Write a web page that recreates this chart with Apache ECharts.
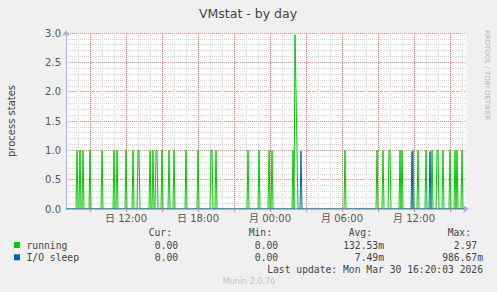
<!DOCTYPE html>
<html><head><meta charset="utf-8">
<script src="https://cdn.jsdelivr.net/npm/echarts@6/dist/echarts.min.js"></script>
<style>html,body{margin:0;padding:0;background:#f0f0f0;}#c{width:497px;height:292px;}</style>
</head><body><div id="c"></div>
<script>
// ---- data ----
const dayNames = ['日', '月'];            // Sun, Mon
const xStartHour = 7;                      // 日 07:00
const sampleMinutes = 5;
const sampleCount = 400;
const xLabelHours = [12, 18, 24, 30, 36];
const majorGridHours = [9, 12, 15, 18, 21, 24, 27, 30, 33, 36, 39];
const runningSpikes = [
  ['日 07:55', 1], ['日 08:10', 1], ['日 08:25', 1], ['日 09:00', 1], ['日 10:00', 1],
  ['日 11:00', 1], ['日 11:15', 1], ['日 12:00', 1], ['日 12:35', 1], ['日 13:00', 1],
  ['日 13:05', 1], ['日 14:00', 1], ['日 14:15', 1], ['日 14:30', 1], ['日 14:35', 1],
  ['日 15:00', 1], ['日 15:35', 1], ['日 16:00', 1], ['日 17:00', 1], ['日 18:00', 1],
  ['日 19:05', 1], ['日 19:10', 1], ['日 19:30', 1], ['日 22:10', 1], ['日 23:05', 1],
  ['日 23:55', 1], ['月 00:10', 1], ['月 01:55', 1], ['月 02:05', 2.97], ['月 02:10', 2.0],
  ['月 02:15', 1.0], ['月 06:15', 1], ['月 08:55', 1], ['月 09:25', 1], ['月 09:55', 1],
  ['月 10:00', 1], ['月 10:50', 1], ['月 11:00', 1], ['月 11:55', 1], ['月 12:20', 1],
  ['月 13:00', 1], ['月 13:30', 1], ['月 13:55', 1], ['月 14:00', 1], ['月 14:25', 1],
  ['月 15:00', 1], ['月 15:25', 1], ['月 15:35', 1], ['月 16:00', 1]
];
const ioSleepSpikes = [
  ['月 02:35', 0.98667], ['月 11:50', 0.98], ['月 13:20', 0.98]
];
const seriesNames = ['running', 'I/O sleep'];
const seriesColors = ['#00CC00', '#0066B3'];
const statHeaders = ['Cur:', 'Min:', 'Avg:', 'Max:'];
const runningStats = [0, 0, 0.13253, 2.97];
const ioSleepStats = [0, 0, 0.00749, 0.98667];
const lastUpdate = 'Mon Mar 30 16:20:03 2026';
const titleText = 'VMstat - by day';
const yAxisTitle = 'process states';
const sideText = 'RRDTOOL / TOBI OETIKER';
const footerText = 'Munin 2.0.76';

// ---- build ----
function toHour(s) {
  const [d, t] = s.split(' ');
  const [hh, mm] = t.split(':').map(Number);
  return dayNames.indexOf(d) * 24 + hh + mm / 60;
}
function buildSeries(spikes) {
  const vals = new Array(sampleCount + 1).fill(0);
  spikes.forEach(([t, v]) => {
    const i = Math.round((toHour(t) - xStartHour) * 60 / sampleMinutes);
    vals[i] = v;
  });
  return vals.map((v, i) => [xStartHour + i * sampleMinutes / 60, v]);
}
const xEndHour = xStartHour + sampleCount * sampleMinutes / 60;
function fmtStat(v) {
  if (v !== 0 && Math.abs(v) < 1) return (v * 1000).toFixed(2) + 'm';
  return v.toFixed(2) + ' ';
}
const pad = n => (n < 10 ? '0' : '') + n;

const SANS = "'DejaVu Sans', 'Noto Sans CJK JP', sans-serif";
const MONO = "'DejaVu Sans Mono', monospace";
const axisColor = '#a8b0e4';
const majorGrid = '#e58c8c';
const majorGridV = '#e06c6c';
const minorGrid = '#d4d4d4';

// hourly grid line colours: every third line (09:00, 12:00, ...) is a major one
const hourLineColors = [];
for (let h = xStartHour; h <= Math.floor(xEndHour); h++) {
  hourLineColors.push(majorGridHours.indexOf(h) >= 0 ? majorGridV : minorGrid);
}

const chart = echarts.init(document.getElementById('c'), null, { renderer: 'svg' });

const graphics = [];
graphics.push({ type: 'text', x: 248, y: 13, style: { text: titleText, font: '12.5px ' + SANS, fill: '#444', align: 'center', verticalAlign: 'middle' } });
graphics.push({ type: 'text', x: 11, y: 121, rotation: Math.PI / 2, style: { text: yAxisTitle, font: '10px ' + SANS, fill: '#444', align: 'center', verticalAlign: 'middle' } });
graphics.push({ type: 'text', x: 487, y: 75, rotation: -Math.PI / 2, style: { text: sideText, font: '7px ' + SANS, fill: '#b4b4b4', align: 'center', verticalAlign: 'middle' } });
const colRight = [184, 284, 384, 483];
statHeaders.forEach((h, k) => {
  graphics.push({ type: 'text', x: colRight[k] - 12, y: 232.5, style: { text: h, font: '9.7px ' + MONO, fill: '#444', align: 'right', verticalAlign: 'middle' } });
});
[runningStats, ioSleepStats].forEach((stats, r) => {
  const y = 245 + r * 12.3;
  graphics.push({ type: 'rect', shape: { x: 14, y: y - 3, width: 6, height: 6 }, style: { fill: seriesColors[r] } });
  graphics.push({ type: 'text', x: 26.5, y: y, style: { text: seriesNames[r], font: '9.7px ' + MONO, fill: '#444', align: 'left', verticalAlign: 'middle' } });
  stats.forEach((v, k) => {
    graphics.push({ type: 'text', x: colRight[k], y: y, style: { text: fmtStat(v), font: '9.7px ' + MONO, fill: '#444', align: 'right', verticalAlign: 'middle' } });
  });
});
graphics.push({ type: 'text', x: 483, y: 269, style: { text: 'Last update: ' + lastUpdate, font: '9.7px ' + MONO, fill: '#444', align: 'right', verticalAlign: 'middle' } });
graphics.push({ type: 'text', x: 249, y: 281, style: { text: footerText, font: '8px ' + SANS, fill: '#c4c4c4', align: 'center', verticalAlign: 'middle' } });

chart.setOption({
  animation: false,
  backgroundColor: '#f0f0f0',
  grid: { left: 66, right: 31, top: 33, bottom: 83, show: true, backgroundColor: '#ffffff', borderWidth: 0 },
  xAxis: [{
    type: 'value', min: xStartHour, max: xEndHour, interval: 1, z: 5,
    axisLine: { show: true, lineStyle: { color: axisColor, width: 1 }, symbol: ['none', 'arrow'], symbolSize: [6, 6], symbolOffset: [0, 3] },
    axisTick: { show: true, customValues: majorGridHours, length: 3, lineStyle: { color: '#e88' } },
    splitLine: { show: false },
    axisLabel: {
      margin: 4, fontSize: 10, fontFamily: SANS, color: '#555', showMinLabel: false, showMaxLabel: false,
      formatter: v => {
        const h = Math.round(v);
        if (Math.abs(v - h) > 1e-6 || xLabelHours.indexOf(h) < 0) return '';
        return dayNames[Math.floor(h / 24)] + ' ' + pad(h % 24) + ':00';
      }
    }
  }, {
    type: 'value', min: xStartHour, max: xEndHour, interval: 1, position: 'bottom', z: 0,
    axisLine: { show: false }, axisLabel: { show: false }, axisTick: { show: false },
    splitLine: { show: true, showMaxLine: false, lineStyle: { color: hourLineColors, type: [1, 1], width: 1 } }
  }],
  yAxis: {
    type: 'value', min: 0, max: 3, interval: 0.5, z: 0,
    axisLine: { show: true, lineStyle: { color: axisColor, width: 1 }, symbol: ['none', 'arrow'], symbolSize: [6, 6], symbolOffset: [0, 3] },
    axisTick: { show: false },
    minorTick: { show: false, splitNumber: 5 },
    minorSplitLine: { show: true, lineStyle: { color: minorGrid, type: [1, 1], width: 1 } },
    splitLine: { show: true, lineStyle: { color: majorGrid, type: [1, 1], width: 1 } },
    axisLabel: { margin: 5, fontSize: 10, fontFamily: SANS, color: '#555', formatter: v => v.toFixed(1) }
  },
  graphic: graphics,
  series: [{
    type: 'line', name: seriesNames[0], z: 2, showSymbol: false, sampling: 'none', xAxisIndex: 0,
    data: buildSeries(runningSpikes), lineStyle: { color: seriesColors[0], width: 1 }, itemStyle: { color: seriesColors[0] }
  }, {
    type: 'line', name: seriesNames[1], z: 3, showSymbol: false, sampling: 'none', xAxisIndex: 0,
    data: buildSeries(ioSleepSpikes), lineStyle: { color: seriesColors[1], width: 1 }, itemStyle: { color: seriesColors[1] }
  }]
});
</script></body></html>
